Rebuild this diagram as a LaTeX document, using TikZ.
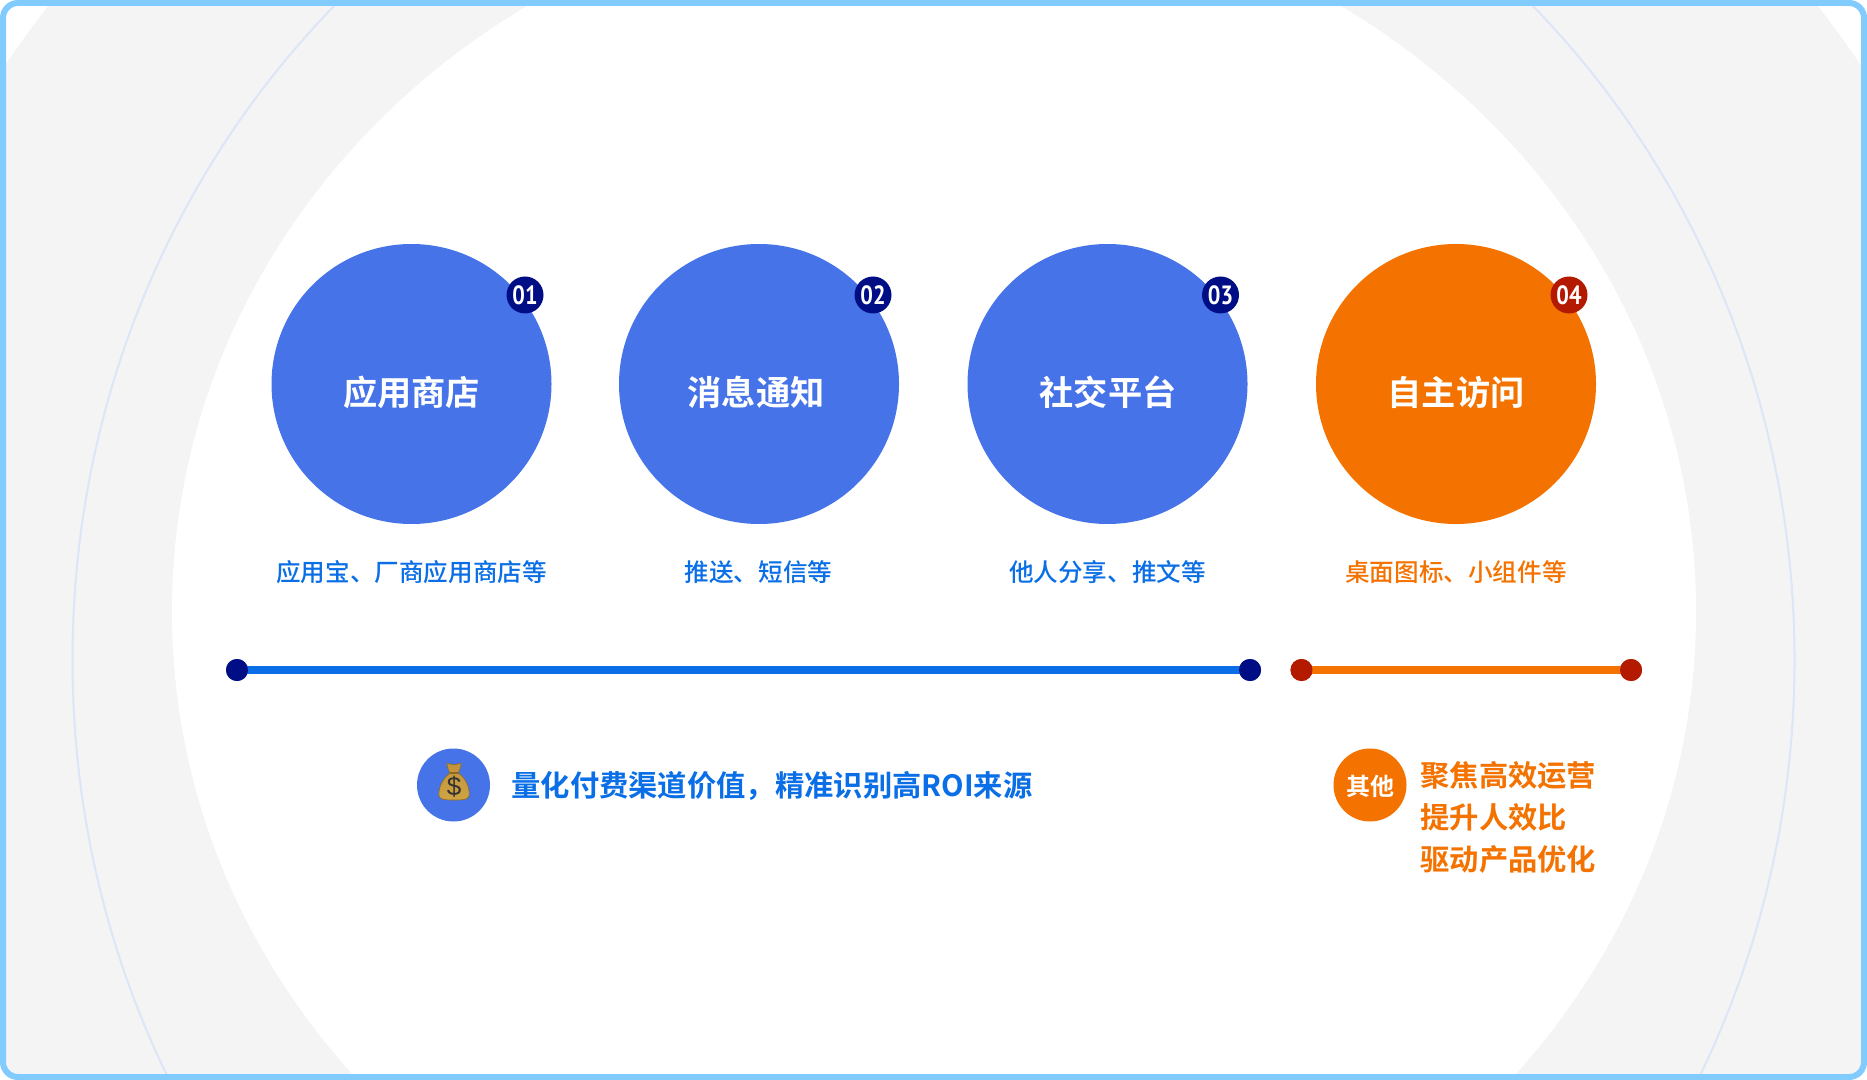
\documentclass[tikz,border=0pt]{standalone}
\usepackage{fontspec}
\newfontfamily\cjk[BoldFont={Noto Sans CJK SC Bold}]{Noto Sans CJK SC}
\newfontfamily\cjkm{Noto Sans CJK SC Medium}
\newfontfamily\digits[FakeStretch=0.84]{PT Sans Bold}
\definecolor{frame}{HTML}{82CBFF}
\definecolor{bandgray}{HTML}{F4F4F4}
\definecolor{thinring}{HTML}{DCE6F7}
\definecolor{circblue}{HTML}{4674E8}
\definecolor{txtblue}{HTML}{0A6FE6}
\definecolor{navydot}{HTML}{000E85}
\definecolor{orangemain}{HTML}{F47300}
\definecolor{reddot}{HTML}{B31A00}
\definecolor{bagdark}{HTML}{8F6A1E}
\definecolor{baglight}{HTML}{D9AE4A}
\definecolor{bagmid}{HTML}{C2933A}
\tikzset{
  bigcirc/.style={circle,inner sep=0pt,minimum size=140pt,fill=#1},
  midcirc/.style={circle,inner sep=0pt,minimum size=36.5pt,fill=#1},
  badge/.style={circle,inner sep=0pt,minimum size=18.5pt,fill=#1,text=white,font=\digits\fontsize{13.2}{13.2}\selectfont},
  enddot/.style={circle,inner sep=0pt,minimum size=11pt,fill=#1},
  title/.style={text=white,inner sep=0pt,font=\cjk\bfseries\fontsize{17.1}{17.1}\selectfont},
  sublabel/.style={text=#1,inner sep=0pt,font=\cjkm\fontsize{12.3}{12.3}\selectfont},
  strong/.style={text=#1,inner sep=0pt,anchor=west,font=\cjk\bfseries\fontsize{14.65}{14.65}\selectfont},
  rail/.style={draw=#1,line width=4pt}
}
\begin{document}
\begin{tikzpicture}[x=0.5pt,y=-0.5pt]
\useasboundingbox (0,0) rectangle (1867,1080);
\fill[white] (0,0) rectangle (1867,1080);
\begin{scope}
\clip[rounded corners=7.5pt] (3,3) rectangle (1864,1077);
\fill[bandgray] (933,660) ellipse [x radius=1110,y radius=1083];
\draw[thinring,line width=1pt] (933.5,660) ellipse [x radius=861,y radius=911];
\fill[white] (934,611.5) ellipse [x radius=762,y radius=716];
\end{scope}
\draw[frame,line width=3pt,rounded corners=7.5pt] (3,3) rectangle (1864,1077);

\node[bigcirc=circblue] (c1) at (411.5,384) {};
\node[bigcirc=circblue] (c2) at (759,384) {};
\node[bigcirc=circblue] (c3) at (1107.5,384) {};
\node[bigcirc=orangemain] (c4) at (1456,384) {};
\node[title] (t1) at (411.5,392) {应用商店};
\node[title] (t2) at (756,392) {消息通知};
\node[title] (t3) at (1108,392) {社交平台};
\node[title] (t4) at (1456,392) {自主访问};
\node[badge=navydot] (b1) at (525,295) {01};
\node[badge=navydot] (b2) at (873,295) {02};
\node[badge=navydot] (b3) at (1220.5,295) {03};
\node[badge=reddot] (b4) at (1569,295) {04};
\node[sublabel=txtblue] (s1) at (411.5,572.5) {应用宝、厂商应用商店等};
\node[sublabel=txtblue] (s2) at (758.5,572.5) {推送、短信等};
\node[sublabel=txtblue] (s3) at (1107.5,572.5) {他人分享、推文等};
\node[sublabel=orangemain] (s4) at (1456,572.5) {桌面图标、小组件等};

\node[enddot=navydot] (d1) at (237,670) {};
\node[enddot=navydot] (d2) at (1250,670) {};
\node[enddot=reddot] (d3) at (1301.5,670) {};
\node[enddot=reddot] (d4) at (1631,670) {};
\draw[rail=txtblue] (d1.center) -- (d2.center);
\draw[rail=orangemain] (d3.center) -- (d4.center);
\node[enddot=navydot] at (d1) {};
\node[enddot=navydot] at (d2) {};
\node[enddot=reddot] at (d3) {};
\node[enddot=reddot] at (d4) {};

\node[midcirc=circblue] (m1) at (453.5,785) {};
% money bag
\shade[top color=bagmid,bottom color=baglight!85!bagdark,draw=bagdark,line width=0.3pt]
  (447,763) .. controls (452,765) and (456,765) .. (461,763)
  .. controls (461,768) and (459,771) .. (458,773)
  .. controls (466,778) and (470,788) .. (469,796)
  .. controls (468,800) and (462,800) .. (454,800)
  .. controls (446,800) and (440,800) .. (439,796)
  .. controls (438,788) and (443,778) .. (450,773)
  .. controls (449,771) and (447,768) .. (447,763) -- cycle;
\fill[bagdark] (449.5,771.5) rectangle (458.5,774);
\node[inner sep=0pt,text=black!80,font=\fontspec{Liberation Sans}\fontsize{13}{13}\selectfont] (dollar) at (454,787) {\$};
\node[strong=txtblue] (q) at (511,785.5) {量化付费渠道价值，精准识别高ROI来源};

\node[midcirc=orangemain] (m2) at (1370,785) {};
\node[text=white,inner sep=0pt,font=\cjk\bfseries\fontsize{12}{12}\selectfont] (m2t) at (1370,786) {其他};
\node[strong=orangemain] (o1) at (1420,775) {聚焦高效运营};
\node[strong=orangemain] (o2) at (1420,817.5) {提升人效比};
\node[strong=orangemain] (o3) at (1420,859.5) {驱动产品优化};
\end{tikzpicture}
\end{document}
